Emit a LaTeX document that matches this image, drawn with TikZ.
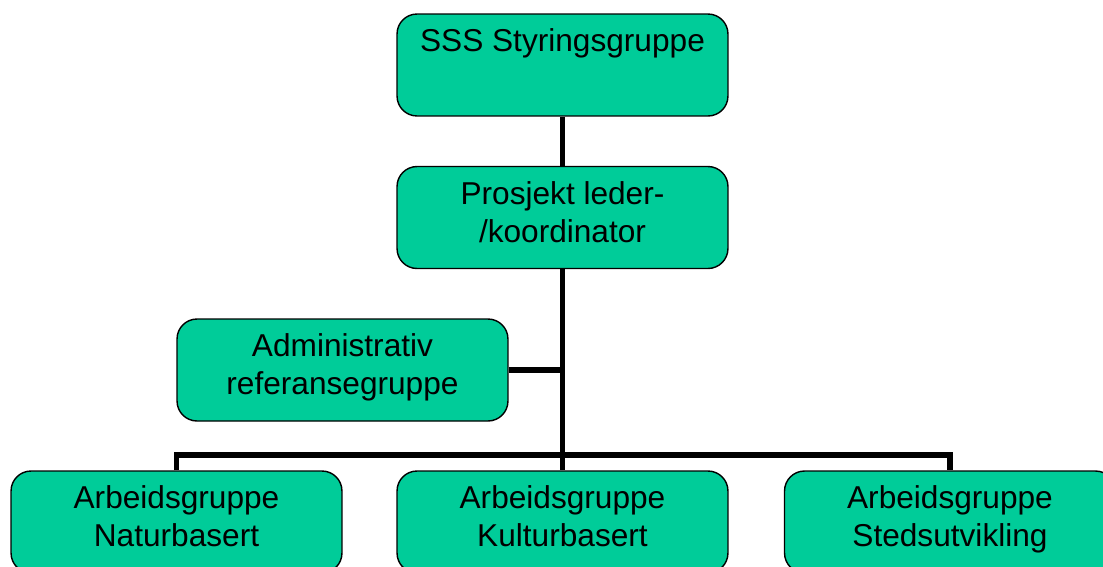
\documentclass[tikz,border=0pt]{standalone}
\usepackage{fontspec}
\setmainfont{Liberation Sans}
\usepackage{tikz}
\usetikzlibrary{positioning, calc}

\definecolor{orggreen}{RGB}{0,204,153}
\newcommand{\lowstrut}{\rule[-5.5pt]{0pt}{5.5pt}}

\begin{document}
\begin{tikzpicture}[
    x=0.02cm, y=-0.02cm,
    every node/.style={rectangle, rounded corners=0.4cm, draw, line width=0.8pt,
        fill=orggreen, minimum width=6.62cm, minimum height=2.04cm,
        align=center, font=\fontsize{18}{21.6}\selectfont,
        execute at begin node=\strut, execute at end node=\lowstrut},
    link/.style={line width=3.2pt}
]
\useasboundingbox (0,0) rectangle (1103,566);
\clip (0,0) rectangle (1103,566);

% Top levels
\node (sss) at (562.5,65) {SSS Styringsgruppe\\~};
\node (leder) at (562.5,217.5) {Prosjekt leder-\\/koordinator};

% Reference group
\node (admin) at (342.5,370) {Administrativ\\referansegruppe};

% Working groups
\node (natur) at (176.5,522) {Arbeidsgruppe\\Naturbasert};
\node (kultur) at (562.5,522) {Arbeidsgruppe\\Kulturbasert};
\node (sted) at (950,522) {Arbeidsgruppe\\Stedsutvikling};

\coordinate (bus) at (562.5,455);

\draw[link] (sss) -- (leder);
\draw[link] (leder) -- (kultur);
\draw[link] (admin.east) -- (admin.east -| leder.south);
\draw[link] (natur.north) |- (bus) -| (sted.north);
\end{tikzpicture}
\end{document}
